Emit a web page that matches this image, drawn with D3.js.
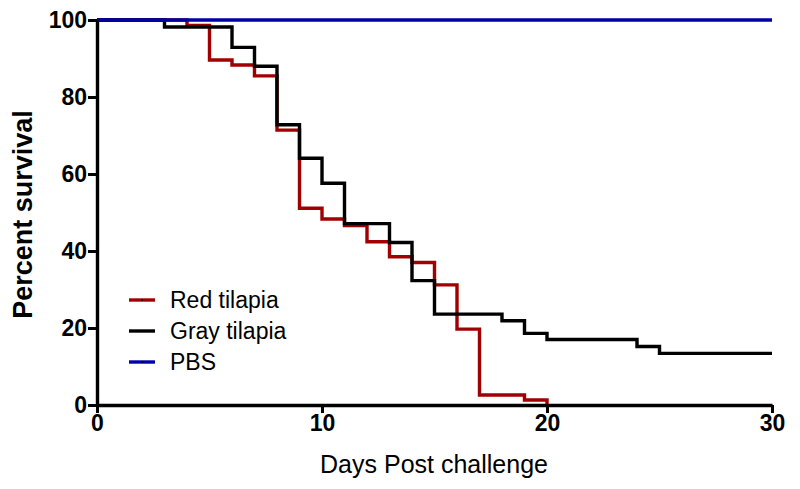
<!DOCTYPE html>
<html>
<head>
<meta charset="utf-8">
<script src="https://cdn.jsdelivr.net/npm/d3@7"></script>
<style>
  body { margin: 0; background: #fff; }
  text { font-family: "Liberation Sans", Arial, sans-serif; }
</style>
</head>
<body>
<script>
// Kaplan-Meier steps (day, percent survival)
var redDays  = [0, 4, 5, 6, 7, 8, 9, 10, 11, 12, 13, 14, 15, 16, 17, 19, 20];
var redSurv  = [100, 98.6, 89.6, 88.3, 85.5, 71.4, 51.1, 48.3, 46.6, 42.4, 38.5, 37.0, 31.2, 19.7, 2.6, 1.3, 0];
var grayDays = [0, 3, 6, 7, 8, 9, 10, 11, 13, 14, 15, 18, 19, 20, 24, 25, 30];
var graySurv = [100, 98.2, 92.9, 88.0, 72.8, 64.1, 57.6, 47.1, 42.2, 32.3, 23.6, 21.9, 18.6, 17.0, 15.2, 13.4, 13.4];
var pbsDays  = [0, 30];
var pbsSurv  = [100, 100];
var xTicks = [0, 10, 20, 30];
var yTicks = [0, 20, 40, 60, 80, 100];
var seriesNames = ["Red tilapia", "Gray tilapia", "PBS"];
var seriesColors = ["#a00000", "#000000", "#0000a8"];

var width = 800, height = 489;
var margin = {top: 20, right: 28, bottom: 84, left: 97};

var svg = d3.select("body").append("svg")
  .attr("width", width)
  .attr("height", height);

var x = d3.scaleLinear().domain([0, 30]).range([margin.left, width - margin.right]);
var y = d3.scaleLinear().domain([0, 100]).range([height - margin.bottom, margin.top]);

function toPts(days, surv) {
  return days.map(function(d, i) { return {day: d, s: surv[i]}; });
}
var series = [toPts(redDays, redSurv), toPts(grayDays, graySurv), toPts(pbsDays, pbsSurv)];

var line = d3.line()
  .x(function(d) { return x(d.day); })
  .y(function(d) { return y(d.s); })
  .curve(d3.curveStepAfter);

series.forEach(function(s, i) {
  svg.append("path")
    .attr("d", line(s))
    .attr("fill", "none")
    .attr("stroke", seriesColors[i])
    .attr("stroke-width", 3.4);
});

// axes
var xAxis = svg.append("g")
  .attr("transform", "translate(0," + y(0) + ")")
  .call(d3.axisBottom(x).tickValues(xTicks).tickSize(8).tickSizeOuter(0).tickPadding(2));
var yAxis = svg.append("g")
  .attr("transform", "translate(" + x(0) + ",0)")
  .call(d3.axisLeft(y).tickValues(yTicks).tickSize(9).tickSizeOuter(0).tickPadding(1));

[xAxis, yAxis].forEach(function(g) {
  g.select(".domain").attr("stroke", "#000").attr("stroke-width", 3.4);
  g.selectAll(".tick line").attr("stroke", "#000").attr("stroke-width", 3);
  g.selectAll(".tick text")
    .attr("fill", "#000")
    .style("font-size", "23px")
    .style("font-weight", "bold")
    .style("font-family", "'Liberation Sans', Arial, sans-serif");
});

svg.append("text")
  .attr("x", (x(0) + x(30)) / 2 - 0.5)
  .attr("y", 473)
  .attr("text-anchor", "middle")
  .style("font-size", "25px")
  .text("Days Post challenge");

svg.append("text")
  .attr("transform", "translate(32," + ((y(0) + y(100)) / 2 + 2) + ") rotate(-90)")
  .attr("text-anchor", "middle")
  .style("font-size", "27px")
  .style("font-weight", "bold")
  .text("Percent survival");

// legend
var legend = svg.append("g").attr("transform", "translate(129,300)");
seriesNames.forEach(function(n, i) {
  var row = legend.append("g").attr("transform", "translate(0," + (i * 31) + ")");
  row.append("line")
    .attr("x1", 0).attr("x2", 26).attr("y1", 0).attr("y2", 0)
    .attr("stroke", seriesColors[i]).attr("stroke-width", 3.4);
  row.append("circle").attr("cx", 13).attr("cy", 0).attr("r", 1).attr("fill", "#000");
  row.append("text")
    .attr("x", 41).attr("y", 0).attr("dy", "0.36em")
    .style("font-size", "23px")
    .text(n);
});
</script>
</body>
</html>
